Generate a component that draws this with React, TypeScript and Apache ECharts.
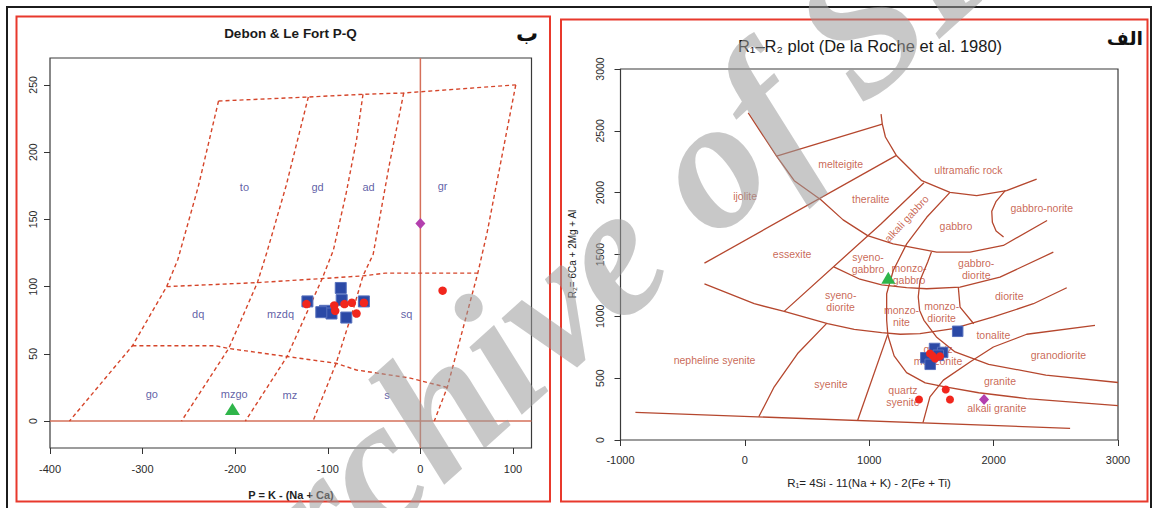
import React, { useEffect, useRef } from 'react';
import * as echarts from 'echarts';

// ---------- Debon & Le Fort P-Q diagram ----------
const pqTicksP = [-400, -300, -200, -100, 0, 100];
const pqTicksQ = [0, 50, 100, 150, 200, 250];

// dashed field boundaries [P, Q]
const pqTopEdge = [[-218, 238], [-121, 241], [-62, 243], [-18, 244], [103, 250]];
const pqBound1 = [[-218, 238], [-240, 174], [-262, 120], [-274, 100], [-311, 56], [-379, 0]];
const pqBound2 = [[-121, 241], [-145, 175], [-166, 125], [-176, 103], [-207, 54], [-258, 0]];
const pqBound3 = [[-62, 243], [-69, 209], [-80, 170], [-94, 127], [-106, 106], [-144, 48], [-189, 0]];
const pqBound4 = [[-18, 244], [-34, 189], [-51, 124], [-62, 108], [-73, 82], [-91, 43], [-116, 0]];
const pqBound5 = [[103, 250], [72, 140], [62, 110], [29, 25], [15, 0]];
const pqUpperCross = [[-274, 100], [-176, 103], [-106, 106], [-62, 108], [-38, 110], [62, 110]];
const pqLowerCross = [[-311, 56], [-221, 56], [-207, 54], [-144, 48], [-91, 43], [-69, 38], [-11, 32], [29, 25]];
// solid reference lines P = 0 and Q = 0
const pqZeroQ = [[-400, 0], [120, 0]];
const pqZeroP = [[0, -20], [0, 270]];

// field names
const pqNames = ['to', 'gd', 'ad', 'gr', 'dq', 'mzdq', 'sq', 'go', 'mzgo', 'mz', 's'];
const pqNameP = [-190, -111, -56, 24, -240, -151, -15, -290, -201, -141, -36];
const pqNameQ = [174, 174, 174, 175, 80, 80, 80, 20, 20, 19.5, 19.5];

// samples
const pqBlueP = [-122, -86, -103, -96, -85, -80, -61, -107];
const pqBlueQ = [89, 99, 82, 80, 90, 77, 89, 81];
const pqRedP = [-123, -93, -92, -82, -74, -69, -61, 24];
const pqRedQ = [87, 86, 82, 87, 88, 80, 88, 97];
const pqGreenP = [-203];
const pqGreenQ = [9];
const pqMagentaP = [0];
const pqMagentaQ = [147];

// ---------- R1-R2 diagram (De la Roche et al. 1980) ----------
const r1Ticks = [-1000, 0, 1000, 2000, 3000];
const r2Ticks = [0, 500, 1000, 1500, 2000, 2500, 3000];

const rArcMain = [[27, 2645], [255, 2295], [397, 2097], [611, 1942], [790, 1780], [987, 1653], [1193, 1586], [1542, 1519], [1810, 1519], [2078, 1573], [2430, 1775]];
const rUltramafic = [[1095, 2635], [1105, 2554], [1130, 2450], [1220, 2298], [1422, 2097], [1649, 2002], [1864, 1976], [2104, 2016], [2346, 2110]];
const rMelteigiteTop = [[255, 2295], [1105, 2554]];
const rIjolite = [[-325, 1430], [1215, 2300]];
const rAlkaliGabbroL = [[316, 1040], [1094, 1747], [1440, 2080]];
const rAlkaliGabbroR = [[1649, 2002], [1462, 1801], [1301, 1586], [1193, 1371], [1140, 1183], [1140, 968], [1150, 845], [1200, 680], [1300, 545], [1450, 462], [1600, 432], [1880, 382], [2266, 335], [3000, 278]];
const rEssexiteBase = [[-325, 1263], [75, 1102], [316, 1040], [665, 941], [879, 895], [1100, 868], [1250, 855], [1408, 860], [1676, 901], [1998, 995], [2320, 1102], [2588, 1231]];
const rSyenoGabbroBase = [[715, 1400], [925, 1300], [1100, 1255], [1300, 1232], [1462, 1223], [1730, 1237], [2051, 1317], [2480, 1519]];
const rMonzoCurve = [[1500, 1521], [1470, 1440], [1408, 1290], [1394, 1156], [1405, 1048], [1440, 968], [1540, 833], [1690, 712], [1960, 612], [2420, 525], [3000, 465]];
const rDioriteSplit = [[1716, 1237], [1730, 1075], [1840, 940]];
const rNoriteArc = [[2095, 2018], [2020, 1930], [1985, 1850], [1990, 1760], [2020, 1690], [2080, 1642]];
const rSyeniteSplit = [[1148, 852], [907, 160]];
const rNephelineSplit = [[658, 943], [424, 699], [236, 430], [112, 188]];
const rBaseLine = [[-880, 224], [2615, 94]];
const rGraniteSplit = [[1432, 140], [1488, 349], [1596, 484], [1810, 631], [1998, 752], [2266, 855], [2815, 927]];

const rNames = ['melteigite', 'ijolite', 'theralite', 'ultramafic rock', 'alkali gabbro', 'gabbro', 'gabbro-norite', 'essexite', 'syeno-\ngabbro', 'monzo-\ngabbro', 'gabbro-\ndiorite', 'diorite', 'syeno-\ndiorite', 'monzo-\nnite', 'monzo-\ndiorite', 'tonalite', 'granodiorite', 'quartz\nmonzonite', 'granite', 'quartz\nsyenite', 'alkali granite', 'syenite', 'nepheline syenite'];
const rNameX = [770, 2, 1012, 1797, 1301, 1697, 2387, 380, 990, 1320, 1860, 2126, 770, 1259, 1582, 1998, 2521, 1553, 2051, 1271, 2025, 692, -244];
const rNameY = [2235, 1976, 1951, 2183, 1788, 1734, 1876, 1505, 1430, 1339, 1383, 1161, 1125, 1004, 1032, 847, 685, 685, 476, 359, 261, 452, 645];

const rBlueR1 = [1525, 1590, 1455, 1490, 1555, 1711];
const rBlueR2 = [740, 708, 665, 612, 685, 879];
const rRedR1 = [1488, 1529, 1569, 1510, 1400, 1615, 1649];
const rRedR2 = [699, 659, 677, 680, 328, 409, 328];
const rGreenR1 = [1153];
const rGreenR2 = [1312];
const rMagentaR1 = [1923];
const rMagentaR2 = [328];

const SANS = 'Liberation Sans, Arial, sans-serif';

function boundary(data: number[][], grid: number, color: string, width: number, dashed: boolean) {
  return {
    type: 'line',
    xAxisIndex: grid,
    yAxisIndex: grid,
    data,
    symbol: 'none',
    silent: true,
    z: 2,
    lineStyle: { color, width, type: dashed ? [4, 3] : 'solid', cap: 'butt' },
  };
}

function names(labels: string[], xs: number[], ys: number[], grid: number, color: string, size: number) {
  return {
    type: 'scatter',
    xAxisIndex: grid,
    yAxisIndex: grid,
    symbolSize: 1,
    silent: true,
    z: 3,
    itemStyle: { color: 'rgba(0,0,0,0)' },
    label: {
      show: true,
      position: 'inside',
      formatter: '{b}',
      color,
      fontSize: size,
      fontFamily: SANS,
      lineHeight: size + 1.5,
    },
    data: labels.map((n, i) => ({
      name: n,
      value: [xs[i], ys[i]],
      ...(n === 'alkali gabbro' ? { label: { rotate: 47 } } : {}),
    })),
  };
}

function points(xs: number[], ys: number[], grid: number, symbol: string, size: any, color: string, border?: string) {
  return {
    type: 'scatter',
    xAxisIndex: grid,
    yAxisIndex: grid,
    symbol,
    symbolSize: size,
    silent: true,
    z: 5,
    itemStyle: { color, borderColor: border || color, borderWidth: border ? 1 : 0, opacity: 1 },
    data: xs.map((x, i) => [x, ys[i]]),
  };
}

function valueAxis(grid: number, min: number, max: number, ticks: number[], isY: boolean, margin: number, fontSize: number) {
  return {
    gridIndex: grid,
    type: 'value',
    min,
    max,
    axisLine: { show: false, onZero: false },
    splitLine: { show: false },
    axisTick: { show: true, length: 6, customValues: ticks, lineStyle: { color: '#333', width: 1 } },
    axisLabel: {
      customValues: ticks,
      rotate: isY ? 90 : 0,
      margin,
      fontSize,
      color: '#2b2b2b',
      fontFamily: SANS,
      formatter: (v: number) => String(v),
    },
  };
}

function buildOption() {
  const pqDash = '#d5452a';
  const pqSolid = '#d5705a';
  const rLine = '#b5472e';
  const rText = '#bb3f2b';
  const pqText = '#36368f';

  return {
    animation: false,
    backgroundColor: '#ffffff',
    grid: [
      { left: 50, top: 58, width: 481.5, height: 390, show: true, borderColor: '#3a3a3a', borderWidth: 1.2, backgroundColor: 'rgba(0,0,0,0)' },
      { left: 620.5, top: 69, width: 497.5, height: 371, show: true, borderColor: '#3a3a3a', borderWidth: 1.2, backgroundColor: 'rgba(0,0,0,0)' },
    ],
    xAxis: [
      valueAxis(0, -400, 120, pqTicksP, false, 15, 11),
      valueAxis(1, -1000, 3000, r1Ticks, false, 14, 11),
    ],
    yAxis: [
      valueAxis(0, -20, 270, pqTicksQ, true, 12, 10.5),
      valueAxis(1, 0, 3000, r2Ticks, true, 15, 10.5),
    ],
    series: [
      boundary(pqZeroQ, 0, pqSolid, 1.5, false),
      boundary(pqZeroP, 0, pqSolid, 1.5, false),
      boundary(pqTopEdge, 0, pqDash, 1.4, true),
      boundary(pqBound1, 0, pqDash, 1.4, true),
      boundary(pqBound2, 0, pqDash, 1.4, true),
      boundary(pqBound3, 0, pqDash, 1.4, true),
      boundary(pqBound4, 0, pqDash, 1.4, true),
      boundary(pqBound5, 0, pqDash, 1.4, true),
      boundary(pqUpperCross, 0, pqDash, 1.4, true),
      boundary(pqLowerCross, 0, pqDash, 1.4, true),
      names(pqNames, pqNameP, pqNameQ, 0, pqText, 11),
      points(pqGreenP, pqGreenQ, 0, 'triangle', [15, 12], '#2fb54a'),
      points(pqMagentaP, pqMagentaQ, 0, 'diamond', [10, 11], '#b33fae'),
      points(pqBlueP, pqBlueQ, 0, 'rect', 11, '#2b49a6', '#5670bd'),
      points(pqRedP, pqRedQ, 0, 'circle', 8.5, '#f1261d'),

      boundary(rArcMain, 1, rLine, 1.3, false),
      boundary(rUltramafic, 1, rLine, 1.3, false),
      boundary(rMelteigiteTop, 1, rLine, 1.3, false),
      boundary(rIjolite, 1, rLine, 1.3, false),
      boundary(rAlkaliGabbroL, 1, rLine, 1.3, false),
      boundary(rAlkaliGabbroR, 1, rLine, 1.3, false),
      boundary(rEssexiteBase, 1, rLine, 1.3, false),
      boundary(rSyenoGabbroBase, 1, rLine, 1.3, false),
      boundary(rMonzoCurve, 1, rLine, 1.3, false),
      boundary(rDioriteSplit, 1, rLine, 1.3, false),
      boundary(rNoriteArc, 1, rLine, 1.3, false),
      boundary(rSyeniteSplit, 1, rLine, 1.3, false),
      boundary(rNephelineSplit, 1, rLine, 1.3, false),
      boundary(rBaseLine, 1, rLine, 1.3, false),
      boundary(rGraniteSplit, 1, rLine, 1.3, false),
      names(rNames, rNameX, rNameY, 1, rText, 10.5),
      points(rGreenR1, rGreenR2, 1, 'triangle', [14, 12], '#2fb54a'),
      points(rMagentaR1, rMagentaR2, 1, 'diamond', [10, 11], '#b33fae'),
      points(rBlueR1, rBlueR2, 1, 'rect', 10.5, '#2b49a6', '#5670bd'),
      points(rRedR1, rRedR2, 1, 'circle', 8, '#f1261d'),
    ],
    graphic: [
      { type: 'rect', silent: true, z: 1, shape: { x: 7, y: 7, width: 1144, height: 520 }, style: { fill: 'none', stroke: '#1c1c1c', lineWidth: 2 } },
      { type: 'rect', silent: true, z: 1, shape: { x: 16.5, y: 16.5, width: 533.5, height: 485 }, style: { fill: 'none', stroke: '#e8392c', lineWidth: 2 } },
      { type: 'rect', silent: true, z: 1, shape: { x: 561, y: 19.5, width: 586.5, height: 482 }, style: { fill: 'none', stroke: '#e8392c', lineWidth: 2 } },
      { type: 'text', silent: true, x: 290.5, y: 33, style: { text: 'Debon & Le Fort P-Q', fontSize: 13.5, fontWeight: 'bold', fontFamily: SANS, fill: '#1a1a1a', align: 'center', verticalAlign: 'middle' } },
      { type: 'text', silent: true, x: 527, y: 33, style: { text: 'ب', fontSize: 22, fontWeight: 'bold', fontFamily: 'DejaVu Sans, sans-serif', fill: '#111', align: 'center', verticalAlign: 'middle' } },
      { type: 'text', silent: true, x: 870, y: 46, style: { text: 'R₁–R₂ plot (De la Roche et al. 1980)', fontSize: 16.5, fontFamily: SANS, fill: '#1a1a1a', align: 'center', verticalAlign: 'middle' } },
      { type: 'text', silent: true, x: 1125, y: 38, style: { text: 'الف', fontSize: 19, fontWeight: 'bold', fontFamily: 'DejaVu Sans, sans-serif', fill: '#111', align: 'center', verticalAlign: 'middle' } },
      { type: 'text', silent: true, x: 291, y: 495, style: { text: 'P = K - (Na + Ca)', fontSize: 11, fontWeight: 'bold', fontFamily: SANS, fill: '#222', align: 'center', verticalAlign: 'middle' } },
      { type: 'text', silent: true, x: 869, y: 483, style: { text: 'R₁= 4Si - 11(Na + K) - 2(Fe + Ti)', fontSize: 11.5, fontFamily: SANS, fill: '#222', align: 'center', verticalAlign: 'middle' } },
      { type: 'text', silent: true, x: 572, y: 254, rotation: Math.PI / 2, style: { text: 'R₂= 6Ca + 2Mg + Al', fontSize: 10, fontFamily: SANS, fill: '#222', align: 'center', verticalAlign: 'middle' } },
      { type: 'text', silent: true, z: 100, x: 622, y: 240, rotation: (42 * Math.PI) / 180, style: { text: 'Archive of SID', fontSize: 186, fontStyle: 'italic', fontWeight: 'bold', fontFamily: 'Liberation Serif, DejaVu Serif, serif', fill: '#9a9a9a', opacity: 0.55, align: 'center', verticalAlign: 'middle' } },
    ],
  };
}

export default function App() {
  const ref = useRef<HTMLDivElement>(null);
  useEffect(() => {
    if (!ref.current) return;
    const chart = echarts.init(ref.current, undefined, { renderer: 'svg' });
    chart.setOption(buildOption() as any);
    return () => chart.dispose();
  }, []);
  return (
    <div
      ref={ref}
      style={{ position: 'absolute', left: 0, top: 0, width: 1153, height: 508, background: '#fff' }}
    />
  );
}
